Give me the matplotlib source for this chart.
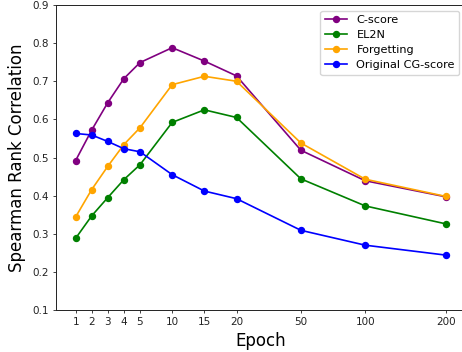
import matplotlib
matplotlib.use("Agg")
import matplotlib.pyplot as plt

epochs = ["1", "2", "3", "4", "5", "10", "15", "20", "50", "100", "200"]
x_pos = [1, 2, 3, 4, 5, 7, 9, 11, 15, 19, 24]

c_score = [0.492, 0.572, 0.644, 0.707, 0.749, 0.788, 0.753, 0.714, 0.519, 0.439, 0.397]
el2n = [0.288, 0.347, 0.395, 0.442, 0.481, 0.592, 0.625, 0.605, 0.444, 0.373, 0.326]
forgetting = [0.344, 0.416, 0.477, 0.534, 0.578, 0.691, 0.713, 0.700, 0.538, 0.443, 0.398]
cg_score = [0.563, 0.559, 0.542, 0.523, 0.515, 0.455, 0.412, 0.392, 0.309, 0.270, 0.244]

fig = plt.figure(figsize=(4.62, 3.52), dpi=100)
ax = fig.add_axes([56 / 462, 42 / 352, 409 / 462, 305 / 352])

ms = 4.3
lw = 1.2
ax.plot(x_pos, c_score, marker='o', color='purple', label='C-score', markersize=ms, linewidth=lw)
ax.plot(x_pos, el2n, marker='o', color='green', label='EL2N', markersize=ms, linewidth=lw)
ax.plot(x_pos, forgetting, marker='o', color='orange', label='Forgetting', markersize=ms, linewidth=lw)
ax.plot(x_pos, cg_score, marker='o', color='blue', label='Original CG-score', markersize=ms, linewidth=lw)

ax.set_xlim(-0.22, 25.2)
ax.set_ylim(0.1, 0.9)
ax.set_xticks(x_pos)
ax.set_xticklabels(epochs)
ax.set_yticks([0.1, 0.2, 0.3, 0.4, 0.5, 0.6, 0.7, 0.8, 0.9])
ax.tick_params(labelsize=7.5, length=2.5, width=0.6, colors='#222222', pad=2.5)
for s in ax.spines.values():
    s.set_linewidth(0.7)
    s.set_color('#222222')

ax.set_xlabel("Epoch", fontsize=12, labelpad=4)
ax.set_ylabel("Spearman Rank Correlation", fontsize=12, labelpad=5)
ax.legend(loc='upper right', fontsize=8.1, borderaxespad=0.5, labelspacing=0.45)

fig.savefig("out.png", dpi=100)
